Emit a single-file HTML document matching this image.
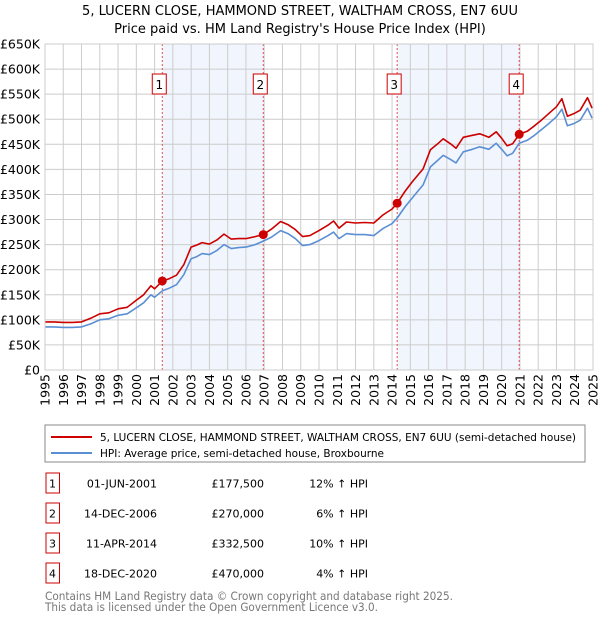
<!DOCTYPE html>
<html><head><meta charset="utf-8"><style>
body{margin:0;background:#fff;font-family:"Liberation Sans","DejaVu Sans",sans-serif;}
svg text{font-family:"DejaVu Sans","Liberation Sans",sans-serif;}
</style></head><body>
<svg id="c" width="600" height="620" xmlns="http://www.w3.org/2000/svg">
<text x="300" y="15" text-anchor="middle" font-size="13" fill="#000">5, LUCERN CLOSE, HAMMOND STREET, WALTHAM CROSS, EN7 6UU</text>
<text x="300" y="33" text-anchor="middle" font-size="13" fill="#000">Price paid vs. HM Land Registry's House Price Index (HPI)</text>
<g id="plot"></g>
<rect x="45" y="425" width="540" height="37" fill="#fff" stroke="#888"/>
<line x1="51" y1="437" x2="92" y2="437" stroke="#cc0000" stroke-width="2"/>
<text x="100" y="441" font-size="11" textLength="476" lengthAdjust="spacingAndGlyphs">5, LUCERN CLOSE, HAMMOND STREET, WALTHAM CROSS, EN7 6UU (semi-detached house)</text>
<line x1="51" y1="453" x2="92" y2="453" stroke="#5b8fd4" stroke-width="2"/>
<text x="100" y="457" font-size="11" textLength="284" lengthAdjust="spacingAndGlyphs">HPI: Average price, semi-detached house, Broxbourne</text>
<g id="table"></g>
<text x="45" y="600" font-size="11.5" fill="#777" textLength="408" lengthAdjust="spacingAndGlyphs">Contains HM Land Registry data © Crown copyright and database right 2025.</text>
<text x="45" y="611" font-size="11.5" fill="#777" textLength="333" lengthAdjust="spacingAndGlyphs">This data is licensed under the Open Government Licence v3.0.</text>
</svg>
<script>
const years=[1995,1995.5,1996,1996.5,1997,1997.5,1998,1998.5,1999,1999.5,2000,2000.4,2000.8,2001.0,2001.42,2001.8,2002.2,2002.6,2003,2003.3,2003.6,2004,2004.4,2004.8,2005.2,2005.6,2006,2006.5,2006.95,2007.4,2007.9,2008.3,2008.7,2009.1,2009.5,2010,2010.5,2010.8,2011.1,2011.5,2012,2012.5,2013,2013.5,2014,2014.28,2014.7,2015.1,2015.7,2016.1,2016.5,2016.8,2017.2,2017.5,2017.9,2018.4,2018.8,2019.3,2019.7,2020.0,2020.3,2020.6,2020.96,2021.4,2021.8,2022.2,2022.6,2023.0,2023.3,2023.6,2024.0,2024.3,2024.7,2024.95];
const hpiValues=[86,86,85,85,86,92,100,102,109,112,124,134,150,145,158,163,170,190,222,226,232,230,238,250,242,244,245,250,257,265,278,272,262,248,250,258,268,275,262,272,270,270,268,282,292,303,325,343,369,405,418,428,420,413,435,440,445,440,452,440,427,432,452,458,468,480,492,505,520,487,492,498,522,502];
const propertyValues=[96,96,95,95,96,103,112,114,122,125,139,150,168,162,177.5,182,189,210,245,249,254,251,259,271,261,262,262,266,270,281,296,290,280,266,268,278,289,297,283,295,293,294,293,309,321,332.5,356,375,401,439,451,461,451,442,464,468,471,464,475,462,447,451,470,476,487,499,512,525,541,506,512,518,543,522];
const saleLabels=["1","2","3","4"];
const saleYears=[2001.42,2006.95,2014.28,2020.96];
const salePrices=[177.5,270,332.5,470];
const saleDates=["01-JUN-2001","14-DEC-2006","11-APR-2014","18-DEC-2020"];
const salePriceText=["£177,500","£270,000","£332,500","£470,000"];
const saleHpiText=["12% ↑ HPI","6% ↑ HPI","10% ↑ HPI","4% ↑ HPI"];
const yTicks=[0,50,100,150,200,250,300,350,400,450,500,550,600,650];
const yTickLabels=["£0","£50K","£100K","£150K","£200K","£250K","£300K","£350K","£400K","£450K","£500K","£550K","£600K","£650K"];
const xTicks=[1995,1996,1997,1998,1999,2000,2001,2002,2003,2004,2005,2006,2007,2008,2009,2010,2011,2012,2013,2014,2015,2016,2017,2018,2019,2020,2021,2022,2023,2024,2025];

const L=45,R=593,T=44,B=370;
const X=y=>L+(y-1995)/30*(R-L);
const Y=v=>B-v/650*(B-T);
const NS="http://www.w3.org/2000/svg";
function mk(tag,attrs,parent){const e=document.createElementNS(NS,tag);for(const k in attrs)e.setAttribute(k,attrs[k]);parent.appendChild(e);return e;}
const g=document.getElementById('plot');
for(let i=0;i<saleYears.length;i+=2){
  const r=mk('rect',{x:X(saleYears[i]),y:T,width:X(saleYears[i+1])-X(saleYears[i]),height:B-T,fill:'#eef3fc',opacity:0.8},g);
  
  
}
xTicks.forEach(t=>{
  const l=mk('line',{x1:X(t),x2:X(t),y1:T,y2:B,stroke:'#ccc','stroke-width':1},g);
  
  
  const tx=mk('text',{x:0,y:0,'font-size':12.5,'text-anchor':'end',transform:`translate(${X(t)+4.5},374) rotate(-90)`},g);
  tx.textContent=t;
  
  
});
yTicks.forEach((t,i)=>{
  const l=mk('line',{x1:L,x2:R,y1:Y(t),y2:Y(t),stroke:'#ccc','stroke-width':1},g);
  
  
  const tx=mk('text',{x:40,y:Y(t)+4.5,'font-size':12.5,'text-anchor':'end'},g);
  tx.textContent=yTickLabels[i];
  
  
});
saleYears.forEach((s,i)=>{
  const l=mk('line',{x1:X(s),x2:X(s),y1:T,y2:B,stroke:'#e05050','stroke-width':1,'stroke-dasharray':'2,2'},g);
  
  
  const b=mk('rect',{x:X(s)-10,y:74,width:14,height:20,fill:'#fff',stroke:'#cc0000','stroke-width':1},g);
  
  
  const t=mk('text',{x:X(s)-3,y:89,'font-size':12,'text-anchor':'middle'},g);
  t.textContent=saleLabels[i];
  
  
});
function path(vals,color,name){
  const d=years.map((y,i)=>(i?'L':'M')+X(y).toFixed(1)+','+Y(vals[i]).toFixed(1)).join('');
  const p=mk('path',{d:d,fill:'none',stroke:color,'stroke-width':1.6,'stroke-linejoin':'round'},g);
  
  
}
path(hpiValues,'#5b8fd4','hpi-line');
path(propertyValues,'#cc0000','property-price-line');
saleYears.forEach((s,i)=>{
  const c=mk('circle',{cx:X(s),cy:Y(salePrices[i]),r:4.5,fill:'#cc0000'},g);
  
  
});
const ax=mk('rect',{x:L,y:T,width:R-L,height:B-T,fill:'none',stroke:'#ccc'},g);


const tb=document.getElementById('table');
saleLabels.forEach((lab,i)=>{
  const cy=483+i*30;
  const b=mk('rect',{x:46,y:cy-10,width:13.5,height:20,fill:'#fff',stroke:'#cc0000'},tb);
  
  
  const cells=[[52.5,lab,'middle','badge-number'],[157,saleDates[i],'end','date'],[264,salePriceText[i],'end','price'],[368,saleHpiText[i],'end','hpi-change']];
  cells.forEach(c=>{
    const t=mk('text',{x:c[0],y:cy+4.5,'font-size':11,'text-anchor':c[2]},tb);
    t.textContent=c[1];
    
    
  });
});
</script>
</body></html>
